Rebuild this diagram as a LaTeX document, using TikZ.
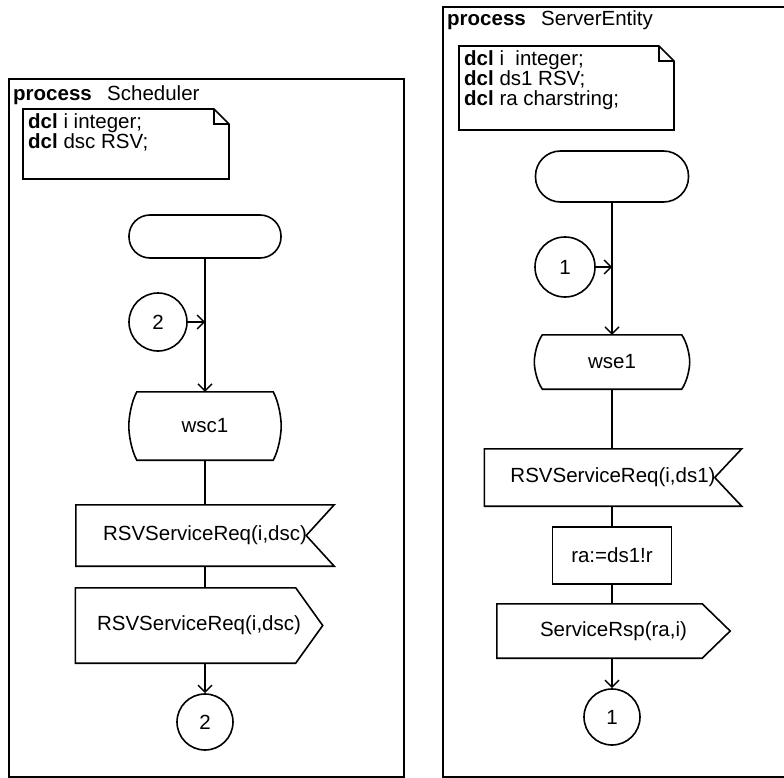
\documentclass[tikz,border=0pt]{standalone}
\usepackage{fontspec}
\setmainfont{Liberation Sans}
\usetikzlibrary{arrows.meta,calc}
\newcommand{\sdlfont}{\fontsize{20.5}{20}\selectfont}
\tikzset{
  frame/.style={draw=black, line width=2pt},
  heading/.style={anchor=base west, inner sep=0pt, font=\sdlfont},
  notebox/.style={anchor=north west, align=left, inner xsep=5pt, inner ysep=4pt, font=\sdlfont},
  startbox/.style={draw=black, line width=1.6pt, rounded corners=21pt, minimum width=152pt, minimum height=43pt},
  conn/.style={circle, draw=black, line width=1.6pt, minimum size=58pt, inner sep=0pt, font=\sdlfont},
  statebox/.style={inner sep=0pt, font=\sdlfont},
  sigbox/.style={inner sep=0pt, font=\sdlfont},
  taskbox/.style={draw=black, line width=1.6pt, inner sep=0pt, font=\sdlfont},
  shape line/.style={draw=black, line width=1.6pt, line join=miter},
  flow/.style={draw=black, line width=1.4pt},
  flowarrow/.style={flow, -{Straight Barb[length=7pt,width=14pt,line width=1.4pt]}}
}
% outlines of the SDL symbols, drawn round a named node
\newcommand{\statesym}[2]{\draw[shape line] ($(#1.north west)+(#2,0)$) -- ($(#1.north east)+(-#2,0)$)
  .. controls ($(#1.north east)!0.15!(#1.south east)+(-#2*0.3,0)$) and ($(#1.north east)!0.38!(#1.south east)$) .. (#1.east)
  .. controls ($(#1.north east)!0.62!(#1.south east)$) and ($(#1.north east)!0.85!(#1.south east)+(-#2*0.3,0)$) .. ($(#1.south east)+(-#2,0)$)
  -- ($(#1.south west)+(#2,0)$)
  .. controls ($(#1.north west)!0.85!(#1.south west)+(#2*0.3,0)$) and ($(#1.north west)!0.62!(#1.south west)$) .. (#1.west)
  .. controls ($(#1.north west)!0.38!(#1.south west)$) and ($(#1.north west)!0.15!(#1.south west)+(#2*0.3,0)$) .. cycle;}
\newcommand{\inputsym}[2]{\draw[shape line] (#1.north west) -- (#1.north east) -- ($(#1.east)+(-#2,0)$) -- (#1.south east) -- (#1.south west) -- cycle;}
\newcommand{\outputsym}[2]{\draw[shape line] (#1.north west) -- ($(#1.north east)+(-#2,0)$) -- (#1.east) -- ($(#1.south east)+(-#2,0)$) -- (#1.south west) -- cycle;}
\newcommand{\notesym}[3]{\draw[shape line] (#1.north west) -- ++(#2-15,0) -- ++(15,15) -- ($(#1.north west)+(#2,#3)$) -- ++(-#2,0) -- cycle;
  \draw[shape line] ($(#1.north west)+(#2-15,0)$) -- ++(0,15) -- ++(15,0);}

\begin{document}
\begin{tikzpicture}[x=1pt, y=-1pt]
  \useasboundingbox (0,0) rectangle (784,778);

  % process Scheduler
  \draw[frame] (9,79) rectangle (404,777);
  \node[heading] (title1) at (13,101) {\textbf{process}\hspace{0.75em}Scheduler};
  \node[notebox] (decl1) at (23,109) {\textbf{dcl} i integer;\\ \textbf{dcl} dsc RSV;};
  \notesym{decl1}{206}{70}
  \node[startbox] (start1) at (205,236.5) {};
  \node[conn] (c2a) at (158,322) {2};
  \coordinate (j2) at (205,322);
  \node[statebox, minimum width=152pt, minimum height=68pt] (wsc1) at (205,426) {wsc1};
  \statesym{wsc1}{8}
  \node[sigbox, minimum width=258pt, minimum height=61pt] (req1) at (205,535.5) {RSVServiceReq(i,dsc)};
  \inputsym{req1}{28}
  \node[sigbox, minimum width=247pt, minimum height=75pt] (send1) at (199,625.5) {RSVServiceReq(i,dsc)};
  \outputsym{send1}{27}
  \node[conn, minimum size=56pt] (c2b) at (205,722) {2};
  \draw[flowarrow] (start1.south) -- (wsc1.north);
  \draw[flowarrow] (c2a) -- (j2);
  \draw[flow] (wsc1) -- (req1);
  \draw[flow] (req1.south) -- (req1.south |- send1.north);
  \draw[flowarrow] (req1.south |- send1.south) -- (c2b);

  % process ServerEntity
  \draw[frame] (784,7) -- (443,7) -- (443,777) -- (784,777);
  \node[heading] (title2) at (447,26) {\textbf{process}\hspace{0.75em}ServerEntity};
  \node[notebox] (decl2) at (459,46) {\textbf{dcl} i\ \ integer;\\ \textbf{dcl} ds1 RSV;\\ \textbf{dcl} ra charstring;};
  \notesym{decl2}{215}{84}
  \node[startbox, minimum width=153pt, minimum height=51pt, rounded corners=25pt] (start2) at (612,176.5) {};
  \node[conn, minimum size=60pt] (c1a) at (565,267) {1};
  \coordinate (j1) at (612,267);
  \node[statebox, minimum width=155pt, minimum height=54pt] (wse1) at (612,362) {wse1};
  \statesym{wse1}{8}
  \node[sigbox, minimum width=257pt, minimum height=57pt] (req2) at (613,477.5) {RSVServiceReq(i,ds1)};
  \inputsym{req2}{27}
  \node[taskbox, minimum width=119pt, minimum height=57pt] (assign) at (612,555.5) {ra:=ds1!r};
  \node[sigbox, minimum width=233pt, minimum height=54pt] (send2) at (613.5,631) {ServiceRsp(ra,i)};
  \outputsym{send2}{28}
  \node[conn, minimum size=56pt] (c1b) at (612,717) {1};
  \draw[flowarrow] (start2.south) -- (wse1.north);
  \draw[flowarrow] (c1a) -- (j1);
  \draw[flow] (wse1.south) -- (wse1.south |- req2.north);
  \draw[flow] (wse1.south |- req2.south) -- (assign);
  \draw[flow] (assign) -- (assign |- send2.north);
  \draw[flowarrow] (assign |- send2.south) -- (c1b);
\end{tikzpicture}
\end{document}
